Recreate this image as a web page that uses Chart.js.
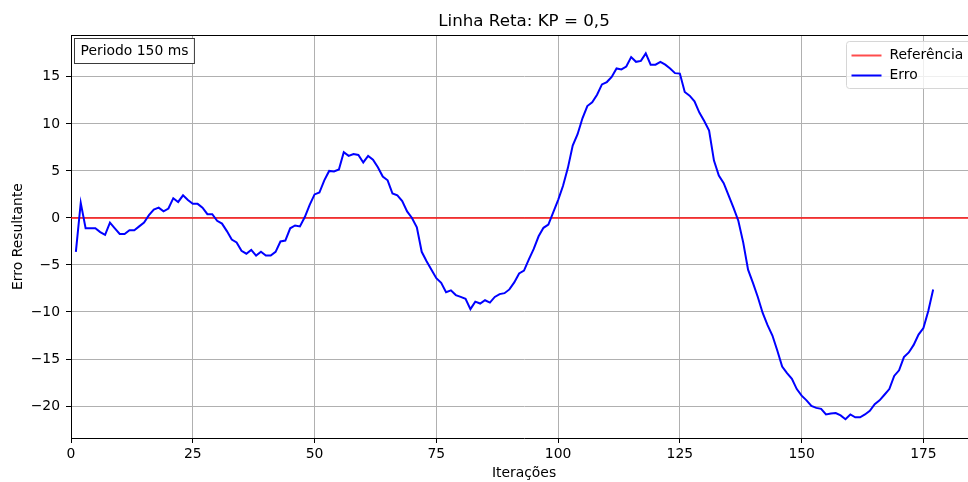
<!DOCTYPE html>
<html>
<head>
<meta charset="utf-8">
<title>Linha Reta: KP = 0,5</title>
<script src="https://cdn.jsdelivr.net/npm/chart.js@4.4.1/dist/chart.umd.min.js"></script>
<style>
  html, body { margin: 0; padding: 0; background: #fff; overflow: hidden; }
  #wrap { width: 968px; height: 482px; overflow: hidden; }
</style>
</head>
<body>
<div id="wrap"><canvas id="grafico" width="990" height="482"></canvas></div>
<script>
// Erro resultante em cada iteração (controle proporcional, KP = 0,5)
const erro = [
  -3.6, 1.6, -1.1, -1.1, -1.1, -1.5, -1.8, -0.5, -1.1, -1.7,
  -1.7, -1.3, -1.3, -0.9, -0.5, 0.3, 0.9, 1.1, 0.7, 1.0,
  2.1, 1.7, 2.4, 1.9, 1.5, 1.5, 1.1, 0.4, 0.4, -0.3,
  -0.6, -1.4, -2.3, -2.6, -3.5, -3.8, -3.4, -4.0, -3.6, -4.0,
  -4.0, -3.6, -2.5, -2.4, -1.1, -0.8, -0.9, 0.1, 1.4, 2.5,
  2.7, 4.0, 5.0, 4.95, 5.15, 7.0, 6.6, 6.8, 6.7, 5.9,
  6.6, 6.2, 5.4, 4.4, 4.0, 2.6, 2.4, 1.8, 0.7, 0.0,
  -1.0, -3.6, -4.6, -5.5, -6.4, -6.9, -7.9, -7.7, -8.2, -8.4,
  -8.6, -9.7, -8.9, -9.1, -8.75, -9.0, -8.4, -8.1, -8.0, -7.6,
  -6.85, -5.9, -5.6, -4.4, -3.3, -1.95, -1.05, -0.7, 0.6, 1.9,
  3.4, 5.3, 7.7, 8.9, 10.6, 11.9, 12.3, 13.1, 14.2, 14.45,
  15.0, 15.9, 15.8, 16.1, 17.1, 16.6, 16.7, 17.5, 16.3, 16.3,
  16.6, 16.3, 15.9, 15.4, 15.35, 13.4, 13.0, 12.4, 11.2, 10.3,
  9.3, 6.1, 4.5, 3.7, 2.4, 1.1, -0.3, -2.6, -5.5, -6.9,
  -8.4, -10.1, -11.4, -12.5, -14.1, -15.8, -16.5, -17.1, -18.2, -18.9,
  -19.4, -20.0, -20.2, -20.3, -20.9, -20.8, -20.75, -21.0, -21.4, -20.9,
  -21.2, -21.2, -20.9, -20.5, -19.8, -19.4, -18.8, -18.2, -16.8, -16.2,
  -14.8, -14.3, -13.5, -12.4, -11.7, -9.9, -7.6
];
const referencia = 0;
const iteracoes = erro.map((_, i) => i + 1);

const xTicks = [0, 25, 50, 75, 100, 125, 150, 175];
const yTicks = [-20, -15, -10, -5, 0, 5, 10, 15];
const limX = [0, 186];
const limY = [-23.4, 19.45];

const FONT = 'DejaVu Sans';
const fonte = { family: FONT, size: 13.9, weight: 'normal', lineHeight: 1.2 };

// caixa de texto, borda superior e legenda desenhadas por cima do gráfico
const extras = {
  id: 'extras',
  afterDraw(chart) {
    const { ctx, chartArea: a } = chart;
    ctx.save();

    // borda superior dos eixos
    ctx.strokeStyle = '#000';
    ctx.lineWidth = 1;
    ctx.beginPath();
    ctx.moveTo(a.left, Math.round(a.top) + 0.5);
    ctx.lineTo(a.right, Math.round(a.top) + 0.5);
    ctx.stroke();

    ctx.font = `13.9px "${FONT}"`;
    ctx.textBaseline = 'middle';

    // "Periodo 150 ms"
    const txt = 'Periodo 150 ms';
    const tw = ctx.measureText(txt).width;
    const bx = Math.round(a.left) + 3.5, by = Math.round(a.top) + 3.5;
    ctx.fillStyle = '#fff';
    ctx.fillRect(bx, by, tw + 12, 25);
    ctx.strokeStyle = '#3a3a3a';
    ctx.strokeRect(bx, by, tw + 12, 25);
    ctx.fillStyle = '#000';
    ctx.fillText(txt, bx + 6, by + 13);

    // legenda
    const itens = chart.data.datasets.slice().sort((p, q) => q.order - p.order);
    const lw = Math.max(...itens.map(d => ctx.measureText(d.label).width));
    const lx = Math.round(a.right) - 131 + 0.5, ly = Math.round(a.top) + 6.5;
    const w = 5 + 30 + 9 + lw + 7, h = 47;
    ctx.beginPath();
    ctx.roundRect(lx, ly, w, h, 3);
    ctx.fillStyle = 'rgba(255,255,255,0.8)';
    ctx.fill();
    ctx.strokeStyle = '#d6d6d6';
    ctx.stroke();
    itens.forEach((d, i) => {
      const yy = ly + 14 + i * 20;
      ctx.strokeStyle = d.borderColor;
      ctx.lineWidth = d.borderWidth;
      ctx.beginPath();
      ctx.moveTo(lx + 5, yy);
      ctx.lineTo(lx + 35, yy);
      ctx.stroke();
      ctx.fillStyle = '#000';
      ctx.fillText(d.label, lx + 43, yy);
    });
    ctx.restore();
  }
};

const ctx = document.getElementById('grafico').getContext('2d');

new Chart(ctx, {
  type: 'line',
  data: {
    datasets: [
      {
        label: 'Erro',
        data: iteracoes.map((x, i) => ({ x, y: erro[i] })),
        borderColor: '#0000ff',
        borderWidth: 2,
        pointRadius: 0,
        tension: 0,
        order: 0
      },
      {
        label: 'Referência',
        data: limX.map(x => ({ x, y: referencia })),
        borderColor: 'rgba(255,0,0,0.7)',
        borderWidth: 2,
        pointRadius: 0,
        order: 1
      }
    ]
  },
  options: {
    responsive: false,
    animation: false,
    layout: { padding: { left: 0, right: 13, top: 0, bottom: 0 } },
    plugins: {
      legend: { display: false },
      tooltip: { enabled: false },
      title: {
        display: true,
        fullSize: false,
        text: 'Linha Reta: KP = 0,5',
        color: '#000',
        font: { family: FONT, size: 16.7, weight: 'normal', lineHeight: 1.2 },
        padding: { top: 12, bottom: 3 }
      }
    },
    scales: {
      x: {
        type: 'linear',
        min: limX[0],
        max: limX[1],
        afterBuildTicks: s => { s.ticks = xTicks.map(v => ({ value: v })); },
        afterFit: s => { s.height = 44; },
        grid: { color: '#b0b0b0', lineWidth: 1, tickColor: '#000', tickLength: 5 },
        border: { color: '#000', width: 1 },
        ticks: { color: '#000', font: fonte, padding: 3, maxRotation: 0 },
        title: { display: true, text: 'Iterações', color: '#000', font: fonte, padding: { top: 0, bottom: 0 } }
      },
      y: {
        min: limY[0],
        max: limY[1],
        afterBuildTicks: s => { s.ticks = yTicks.map(v => ({ value: v })); },
        afterFit: s => { s.width = 71; },
        grid: { color: '#b0b0b0', lineWidth: 1, tickColor: '#000', tickLength: 5 },
        border: { color: '#000', width: 1 },
        ticks: {
          color: '#000',
          font: fonte,
          padding: 6,
          callback: v => String(v).replace('-', '\u2212')
        },
        title: { display: true, text: 'Erro Resultante', color: '#000', font: fonte, padding: { top: 10, bottom: 0 } }
      }
    }
  },
  plugins: [extras]
});
</script>
</body>
</html>
